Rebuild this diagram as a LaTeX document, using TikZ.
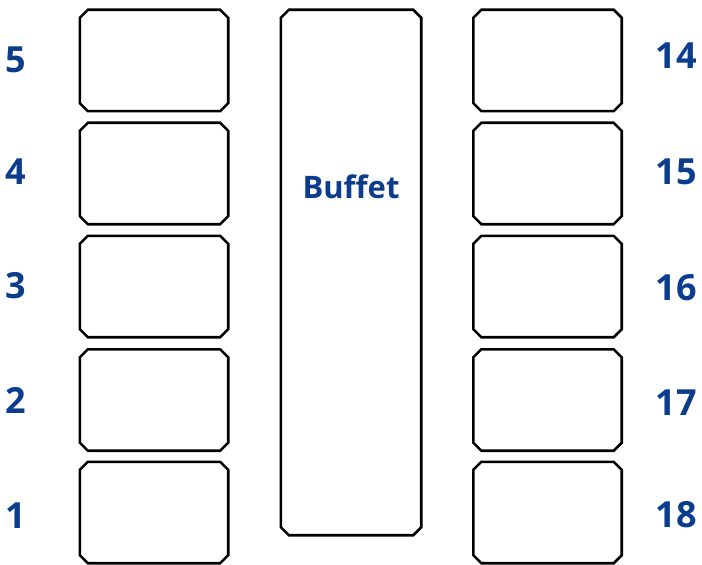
\documentclass[tikz,border=0pt]{standalone}
\usepackage{fontspec}
\setmainfont{Open Sans}
\definecolor{lblue}{RGB}{11,61,140}
\newcommand{\chamferbox}[1]{%
  \draw[boxline] ([xshift=8bp]#1.north west) -- ([xshift=-8bp]#1.north east)
    -- ([yshift=-8bp]#1.north east) -- ([yshift=8bp]#1.south east)
    -- ([xshift=-8bp]#1.south east) -- ([xshift=8bp]#1.south west)
    -- ([yshift=8bp]#1.south west) -- ([yshift=-8bp]#1.north west) -- cycle;}
\begin{document}
\begin{tikzpicture}[x=1bp,y=-1bp,
  boxline/.style={draw=black, line width=2.6bp, line join=miter},
  tablebox/.style={rectangle, inner sep=0pt, minimum width=148bp, minimum height=101bp},
  buffetbox/.style={rectangle, inner sep=0pt, minimum width=140bp, minimum height=525bp},
  num/.style={text=lblue, font=\bfseries\fontsize{36bp}{40bp}\selectfont, inner sep=0pt},
  btext/.style={text=lblue, font=\bfseries\fontsize{31bp}{36bp}\selectfont, inner sep=0pt}]
\useasboundingbox (0,0) rectangle (702,565);
% left column
\node[tablebox] (t5) at (154,60.5) {};
\node[tablebox] (t4) at (154,173.5) {};
\node[tablebox] (t3) at (154,286.5) {};
\node[tablebox] (t2) at (154,400) {};
\node[tablebox] (t1) at (154,512.5) {};
% buffet
\node[buffetbox] (buffet) at (351,272.5) {};
\node[btext] (bl) at (351,187) {Buffet};
% right column
\node[tablebox] (t14) at (547.5,60.5) {};
\node[tablebox] (t15) at (547.5,173.5) {};
\node[tablebox] (t16) at (547.5,286.5) {};
\node[tablebox] (t17) at (547.5,400) {};
\node[tablebox] (t18) at (547.5,512.5) {};
\foreach \n in {t1,t2,t3,t4,t5,t14,t15,t16,t17,t18,buffet}{\chamferbox{\n}}
% labels
\node[num] (l5) at (16,60) {5};
\node[num] (l4) at (16,172) {4};
\node[num] (l3) at (16,286) {3};
\node[num] (l2) at (16,400) {2};
\node[num] (l1) at (16,516) {1};
\node[num] (l14) at (676,56) {14};
\node[num] (l15) at (676,172) {15};
\node[num] (l16) at (676,288) {16};
\node[num] (l17) at (676,402.5) {17};
\node[num] (l18) at (676,515) {18};
\end{tikzpicture}
\end{document}
